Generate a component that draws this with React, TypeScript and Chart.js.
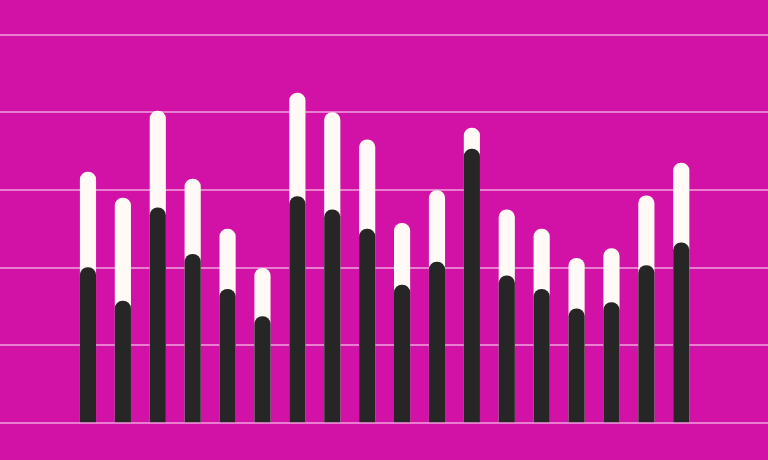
import React, { useEffect, useRef } from "react";
import { Chart, registerables } from "chart.js";

Chart.register(...registerables);

const categories = ["1", "2", "3", "4", "5", "6", "7", "8", "9", "10", "11", "12", "13", "14", "15", "16", "17", "18"];
const totalValues = [64.6, 57.9, 80.3, 62.8, 49.9, 39.8, 84.9, 79.9, 72.9, 51.4, 59.8, 75.9, 54.9, 49.9, 42.4, 44.9, 58.5, 66.9];
const darkValues = [40.0, 31.4, 55.4, 43.4, 34.4, 27.4, 58.3, 54.9, 49.9, 35.5, 41.4, 70.5, 37.9, 34.4, 29.4, 31.0, 40.5, 46.4];
const yTicks = [0, 20, 40, 60, 80, 100];

const BG = "#d211a6";
const DARK = "#262626";
const LIGHT = "#fffaf5";

export default function App() {
  const ref = useRef<HTMLCanvasElement | null>(null);

  useEffect(() => {
    if (!ref.current) return;
    const toPoints = (vals: number[]) => categories.map((_, i) => ({ x: i, y: vals[i] }));
    const chart = new Chart(ref.current, {
      type: "bar",
      data: {
        datasets: [
          {
            label: "dark",
            data: toPoints(darkValues),
            backgroundColor: DARK,
            borderRadius: 20,
            borderSkipped: "start",
            barThickness: 15.5,
            grouped: false,
            order: 1,
          },
          {
            label: "total",
            data: toPoints(totalValues),
            backgroundColor: LIGHT,
            borderRadius: 20,
            borderSkipped: "start",
            barThickness: 15.5,
            grouped: false,
            order: 2,
          },
        ],
      },
      options: {
        animation: false,
        responsive: false,
        devicePixelRatio: 1,
        layout: { padding: { top: 34.5, bottom: 37, left: 0, right: 0 } },
        plugins: { legend: { display: false }, tooltip: { enabled: false } },
        scales: {
          x: {
            type: "linear",
            display: false,
            offset: false,
            grid: { offset: false },
            min: -2.521,
            max: 19.485,
          },
          y: {
            min: yTicks[0],
            max: yTicks[yTicks.length - 1],
            afterBuildTicks: (scale: any) => {
              scale.ticks = yTicks.map((v) => ({ value: v }));
            },
            ticks: { display: false },
            border: { display: false },
            grid: { color: "rgba(255,235,250,0.5)", lineWidth: 2, drawTicks: false },
          },
        },
      },
    });
    return () => chart.destroy();
  }, []);

  return (
    <div style={{ position: "fixed", left: 0, top: 0, width: 768, height: 460, background: BG }}>
      <canvas ref={ref} width={768} height={460} style={{ display: "block" }} />
    </div>
  );
}
